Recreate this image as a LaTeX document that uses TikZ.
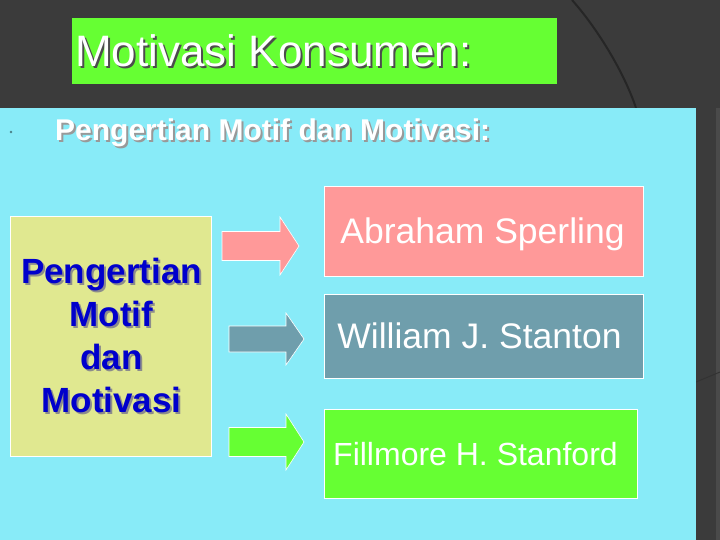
\documentclass[tikz,border=0pt]{standalone}
\usepackage{fontspec}
\setmainfont{Liberation Sans}
\usetikzlibrary{calc, positioning}
\definecolor{slidebg}{HTML}{3B3B3B}
\definecolor{slidestrip}{HTML}{4A4A4A}
\definecolor{panelcyan}{HTML}{88EBF8}
\definecolor{titlegreen}{HTML}{66FF33}
\definecolor{motifyellow}{HTML}{E0E890}
\definecolor{motifblue}{HTML}{0000CC}
\definecolor{sperlingred}{HTML}{FF9999}
\definecolor{stantongray}{HTML}{6F9EAC}
\definecolor{stanfordgreen}{HTML}{66FF33}
% text with a drop shadow: colour, text
\newcommand{\dropshade}[2]{\rlap{\kern2pt\raisebox{-2pt}{\textcolor{#1}{#2}}}#2}
\tikzset{
	slide/.style={x=1pt,y=-1pt},
	plaintext/.style={inner sep=0pt, anchor=base west},
	namebox/.style={
		rectangle,
		draw=white, line width=0.8pt,
		inner sep=0pt,
		text=white,
		font=\fontsize{35.5}{40}\selectfont,
		text height=25pt,
		text depth=0pt
	},
	motifbox/.style={rectangle, draw=white, line width=0.8pt, fill=motifyellow, inner sep=0pt},
	blockarrow/.style={draw=white, line width=0.6pt}
}

\begin{document}
\begin{tikzpicture}[slide]

	\fill[slidebg] (0,0) rectangle (720,540);
	\useasboundingbox (0,0) rectangle (720,540);
	\fill[slidestrip] (716,108) rectangle (720,540);
	\draw[black!80,line width=1pt] (696,382)--(720,372);
	\draw[black!85,line width=2pt] (572,0) .. controls (597,28) and (624,72) .. (636,108);

	% title
	\fill[titlegreen] (72,18) rectangle (557,84);
	\node[plaintext,text=white,font=\fontsize{44}{48}\selectfont] (title) at (75,67) {\dropshade{black!70}{Motivasi Konsumen:}};

	% panel
	\fill[panelcyan] (0,108) rectangle (696,540);
	\fill[black!45!panelcyan] (11,132) circle (1.4);
	\node[plaintext,text=white,font=\fontsize{30}{36}\selectfont\bfseries] (sub) at (55,141) {\dropshade{black!40}{Pengertian Motif dan Motivasi:}};

	\node[motifbox,minimum width=201pt,minimum height=240pt] (motif) at (110.5,336) {};
	\node[inner sep=0pt,align=center,text=motifblue,font=\fontsize{35}{43}\selectfont\bfseries] (motif text) at (111.5,336)
		{\dropshade{black!45}{Pengertian}\\\dropshade{black!45}{Motif}\\\dropshade{black!45}{dan}\\\dropshade{black!45}{Motivasi}};

	% arrows
	\foreach \xa/\xb/\xc/\yc/\hs/\hh/\col in {222/280/299/246/14.5/29/sperlingred, 229/286/304/339/13/26/stantongray, 229/286/304/442/14.5/28/stanfordgreen} {
		\filldraw[blockarrow,fill=\col] (\xa,\yc-\hs)--(\xb,\yc-\hs)--(\xb,\yc-\hh)--(\xc,\yc)--(\xb,\yc+\hh)--(\xb,\yc+\hs)--(\xa,\yc+\hs)--cycle;
	}

	% names
	\node[namebox,fill=sperlingred,minimum width=319pt,minimum height=90pt] (sperling) at (483.5,231) {\hspace*{-2pt}Abraham Sperling};
	\node[namebox,fill=stantongray,minimum width=319pt,minimum height=84pt] (stanton) at (483.5,336) {\hspace*{-8pt}William J. Stanton};
	\node[namebox,fill=stanfordgreen,minimum width=313pt,minimum height=89pt,font=\fontsize{32}{38}\selectfont,text height=23pt] (stanford) at (480.5,453.5) {\hspace*{-10pt}Fillmore H. Stanford};

\end{tikzpicture}
\end{document}
